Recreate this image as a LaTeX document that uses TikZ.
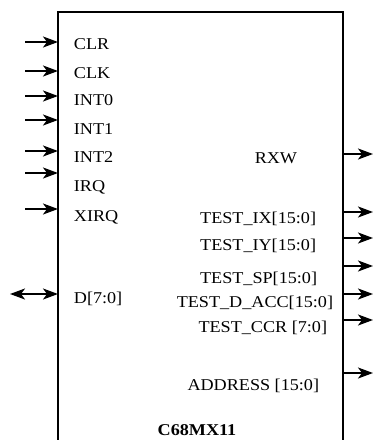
\documentclass[tikz,border=0pt]{standalone}
\usepackage{fontspec}
\setmainfont{Liberation Serif}[FakeStretch=1.1]
\usetikzlibrary{arrows.meta}
\begin{document}
\begin{tikzpicture}[
		x=1pt, y=-1pt,
		line width=1.8pt,
		pin/.style={-{Stealth[length=15pt,width=11pt,inset=4pt]}},
		bipin/.style={{Stealth[length=15pt,width=11pt,inset=4pt]}-{Stealth[length=15pt,width=11pt,inset=4pt]}},
		sig/.style={font=\fontsize{16.5}{18}\selectfont, inner sep=0pt},
		title/.style={font=\fontsize{16.5}{18}\selectfont\bfseries, inner sep=0pt}
	]
	\useasboundingbox (0,0) rectangle (373,440);
	\coordinate (chip-bl) at (58,440);
	\coordinate (chip-tl) at (58,12);
	\coordinate (chip-tr) at (343,12);
	\coordinate (chip-br) at (343,440);
	\draw (chip-bl) -- (chip-tl) -- (chip-tr) -- (chip-br);
	\foreach \sname/\ya/\yb in {CLR/42/49, CLK/71/78, INT0/96/105, INT1/120/134,
			INT2/151/162, IRQ/173/191, XIRQ/209/221} {
		\coordinate (src-\sname) at (25,\ya);
		\coordinate (in-\sname) at (58,\ya);
		\node[sig, anchor=base west] (lbl-\sname) at (73,\yb) {\sname};
		\draw[pin] (src-\sname) -- (in-\sname);
	}
	\coordinate (src-D) at (10,294);
	\coordinate (in-D) at (58,294);
	\node[sig, anchor=base west] (lbl-D) at (73,303) {D[7:0]};
	\draw[bipin] (src-D) -- (in-D);
	\foreach \sname/\ya/\yb/\xr/\stext in {RXW/154/163/298/RXW,
			IX/212/223/317/TEST\_IX[15:0], IY/238/250/317/TEST\_IY[15:0],
			SP/266/283/318/TEST\_SP[15:0], DACC/294/307/334/TEST\_D\_ACC[15:0],
			CCR/320/332/328/TEST\_CCR [7:0], ADDR/373/390/320/ADDRESS [15:0]} {
		\coordinate (out-\sname) at (343,\ya);
		\coordinate (dst-\sname) at (373,\ya);
		\node[sig, anchor=base east] (lbl-\sname) at (\xr,\yb) {\stext};
		\draw[pin] (out-\sname) -- (dst-\sname);
	}
	\node[title, anchor=base] (chip-name) at (197,435) {C68MX11};
\end{tikzpicture}
\end{document}
